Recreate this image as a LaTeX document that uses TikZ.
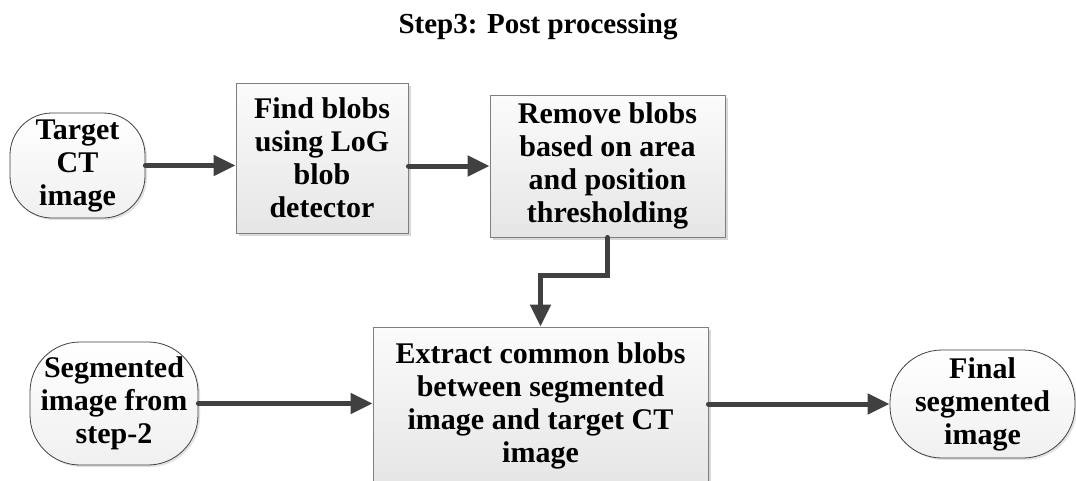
\documentclass[tikz,border=0pt]{standalone}
\usepackage{fontspec}
\setmainfont{Liberation Serif}
\usetikzlibrary{arrows.meta,shadows}
\definecolor{arrowgray}{HTML}{404040}
\definecolor{edgegray}{HTML}{7F7F7F}
\begin{document}
\begin{tikzpicture}[x=1pt,y=-1pt,
  txt/.style={align=center, inner sep=0pt, font=\bfseries\fontsize{30}{33}\selectfont},
  procbox/.style={txt, draw=edgegray, line width=0.9pt, top color=gray!3, bottom color=gray!20,
    drop shadow={shadow xshift=3pt, shadow yshift=-3pt, fill=gray!60}},
  termnode/.style={txt, draw=arrowgray, line width=0.8pt, top color=white, bottom color=gray!12,
    drop shadow={shadow xshift=2pt, shadow yshift=-2pt, fill=gray!45}},
  flow/.style={line width=5pt, draw=arrowgray, line cap=round,
    -{Triangle[length=22pt,width=20pt]}}]
\useasboundingbox (0,0) rectangle (1076,480);
\clip (0,0) rectangle (1076,480);

% heading
\node[txt, font=\bfseries\fontsize{29}{33}\selectfont, anchor=base] (title) at (538,33) {Step3: Post processing};

% terminals
\node[termnode, minimum width=135pt, minimum height=105pt, rounded corners=42pt] (target) at (77.5,165.5) {Target\\CT\\image};
\node[termnode, minimum width=168pt, minimum height=123pt, rounded corners=50pt] (seg) at (114,403.5) {Segmented\\image from\\step-2};
\node[termnode, minimum width=185pt, minimum height=108pt, rounded corners=52pt] (final) at (982.5,404) {Final\\segmented\\image};

% processing steps
\node[procbox, minimum width=172pt, minimum height=150pt] (find) at (322,158) {Find blobs\\using LoG\\blob\\detector};
\node[procbox, minimum width=235pt, minimum height=142pt] (remove) at (607.5,166) {Remove blobs\\based on area\\and position\\thresholding};
\node[procbox, minimum width=335pt, minimum height=158pt] (extract) at (540.5,406) {Extract common blobs\\between segmented\\image and target CT\\image};

% connectors
\draw[flow] (target.east) -- (target.east -| find.west);
\draw[flow] (find.east |- remove.west) -- (remove.west);
\draw[flow] (remove.south) -- ++(0,38) -| (extract.north);
\draw[flow] (seg.east) -- (seg.east -| extract.west);
\draw[flow] (extract.east |- final.west) -- (final.west);
\end{tikzpicture}
\end{document}
